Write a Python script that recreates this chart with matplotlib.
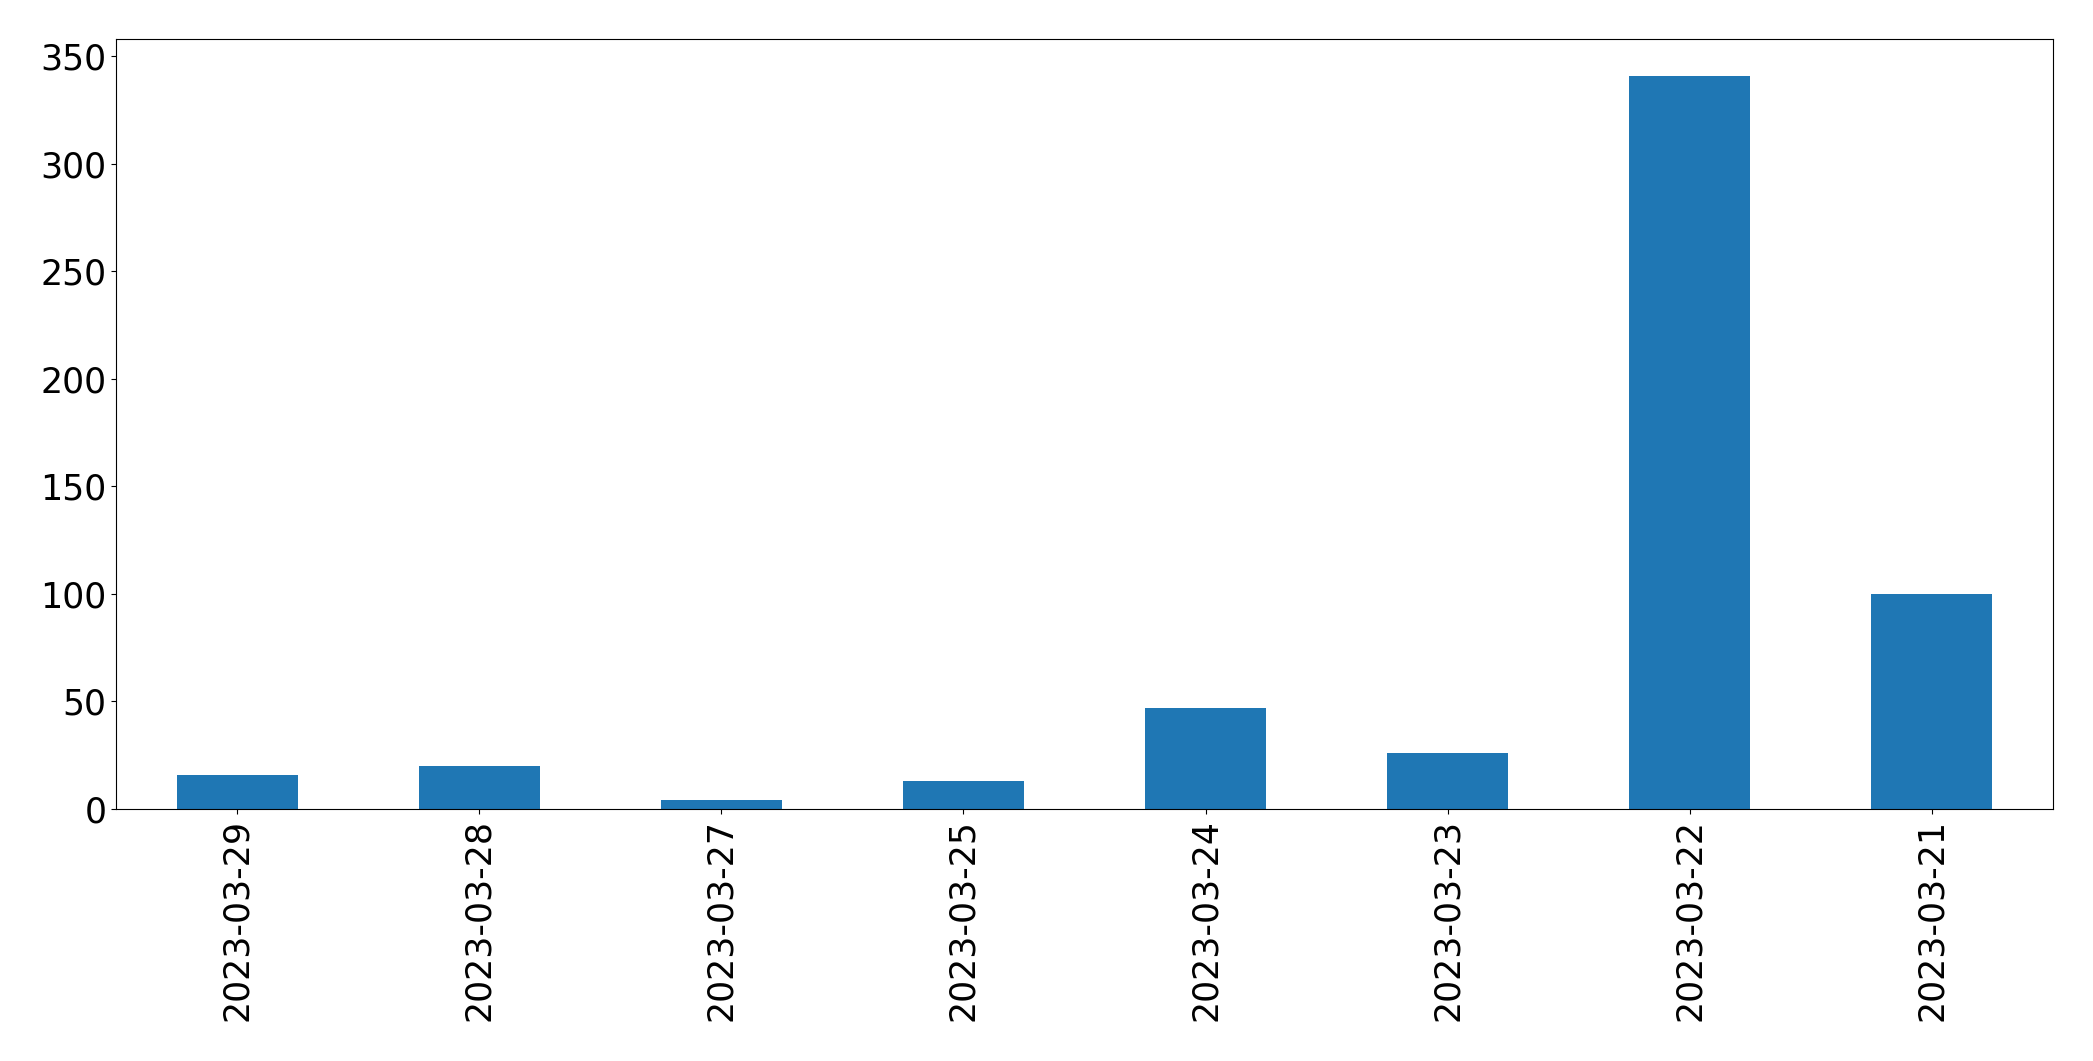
import matplotlib
matplotlib.use("Agg")
import matplotlib.pyplot as plt

dates = ["2023-03-29", "2023-03-28", "2023-03-27", "2023-03-25",
         "2023-03-24", "2023-03-23", "2023-03-22", "2023-03-21"]
counts = [16, 20, 4, 13, 47, 26, 341, 100]

fig = plt.figure(figsize=(20.93, 10.61), dpi=100)
ax = fig.add_axes([116 / 2093, 1 - 809 / 1061, (2053 - 116) / 2093, (809 - 39) / 1061])

x = range(len(dates))
ax.bar(x, counts, width=0.5, color="#1f77b4")
ax.set_xlim(-0.5, len(dates) - 0.5)
ax.set_ylim(0, max(counts) * 1.05)
ax.set_xticks(list(x))
ax.set_xticklabels(dates, rotation=90)
ax.tick_params(axis="both", labelsize=25)

fig.savefig("out.png", dpi=100)
